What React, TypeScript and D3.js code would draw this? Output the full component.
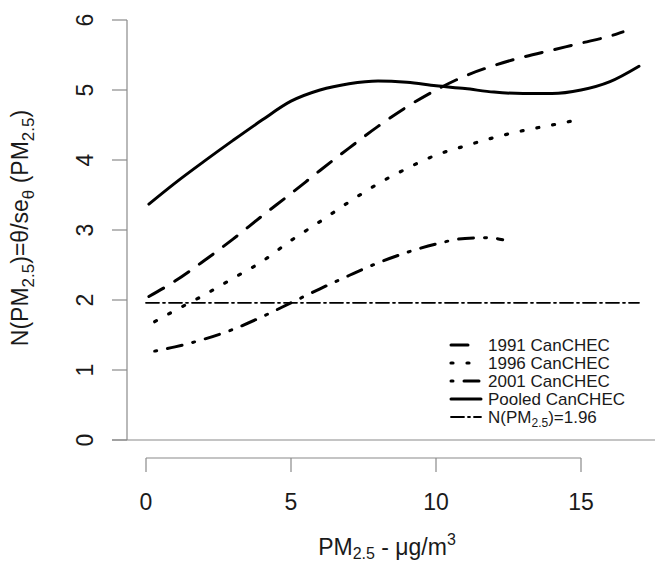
import * as d3 from "d3";

// values
const pooledX = [0.1, 1, 2, 3, 4, 5, 6, 7, 8, 9, 10, 11, 12, 13, 14, 15, 16, 17.0];
const pooledY = [3.37, 3.67, 3.98, 4.28, 4.57, 4.84, 5.0, 5.09, 5.13, 5.11, 5.06, 5.02, 4.97, 4.95, 4.95, 5.0, 5.12, 5.34];

const c1991X = [0.1, 1, 2, 3, 4, 5, 6, 7, 8, 9, 10, 11, 12, 13, 14, 15, 16, 16.45];
const c1991Y = [2.05, 2.27, 2.56, 2.87, 3.2, 3.52, 3.85, 4.17, 4.48, 4.76, 5.0, 5.2, 5.35, 5.47, 5.57, 5.67, 5.77, 5.83];

const c1996X = [0.3, 1, 2, 3, 4, 5, 6, 7, 8, 9, 10, 11, 12, 13, 14, 14.85];
const c1996Y = [1.69, 1.85, 2.07, 2.31, 2.55, 2.85, 3.12, 3.4, 3.66, 3.88, 4.07, 4.2, 4.32, 4.42, 4.5, 4.57];

const c2001X = [0.3, 1, 2, 3, 4, 5, 6, 7, 8, 9, 10, 11, 11.8, 12.3];
const c2001Y = [1.27, 1.33, 1.44, 1.58, 1.76, 1.96, 2.16, 2.35, 2.53, 2.68, 2.8, 2.88, 2.89, 2.86];

const refX = [0, 17.0];
const refY = [1.96, 1.96];

const xTicks = [0, 5, 10, 15];
const yTicks = [0, 1, 2, 3, 4, 5, 6];

const series = [
  { name: "1991 CanCHEC", xs: c1991X, ys: c1991Y, dash: "17,13", width: 3 },
  { name: "1996 CanCHEC", xs: c1996X, ys: c1996Y, dash: "2,14", width: 3.2 },
  { name: "2001 CanCHEC", xs: c2001X, ys: c2001Y, dash: "2,11,15,11", width: 3 },
  { name: "Pooled CanCHEC", xs: pooledX, ys: pooledY, dash: null, width: 3 },
  { name: "ref", xs: refX, ys: refY, dash: "13,4,2,4", width: 1.8 },
];

const W = 655;
const H = 566;
const font = "'Liberation Sans', Arial, sans-serif";
const axisColor = "#8a8a8a";
const textColor = "#1a1a1a";

export default function App() {
  const x = d3.scaleLinear().domain([0, 15]).range([146, 581]);
  const y = d3.scaleLinear().domain([0, 6]).range([440, 20]);

  const line = d3
    .line<[number, number]>()
    .x((d) => x(d[0]))
    .y((d) => y(d[1]))
    .curve(d3.curveMonotoneX);

  const legendX0 = 451;
  const legendX1 = 481;
  const legendTextX = 488;
  const legendY0 = 345;
  const legendStep = 18;

  return (
    <svg
      width={W}
      height={H}
      style={{ position: "absolute", left: 0, top: 0, background: "#fff" }}
      fontFamily={font}
    >
      {/* y axis */}
      <line x1={127} x2={127} y1={y(6)} y2={y(0)} stroke={axisColor} strokeWidth={1.2} />
      {yTicks.map((t) => (
        <g key={t}>
          <line x1={112} x2={127} y1={y(t)} y2={y(t)} stroke={axisColor} strokeWidth={1.2} />
          <text
            transform={`translate(93,${y(t)}) rotate(-90)`}
            textAnchor="middle"
            fontSize={23}
            fill={textColor}
          >
            {t}
          </text>
        </g>
      ))}
      {/* zero line */}
      <line x1={112} x2={W} y1={y(0)} y2={y(0)} stroke={axisColor} strokeWidth={1.2} />

      {/* x axis */}
      <line x1={x(0)} x2={x(15)} y1={458} y2={458} stroke={axisColor} strokeWidth={1.2} />
      {xTicks.map((t) => (
        <g key={t}>
          <line x1={x(t)} x2={x(t)} y1={458} y2={472} stroke={axisColor} strokeWidth={1.2} />
          <text x={x(t)} y={510} textAnchor="middle" fontSize={23} fill={textColor}>
            {t}
          </text>
        </g>
      ))}

      {/* axis titles */}
      <text x={387} y={555} textAnchor="middle" fontSize={23} fill={textColor}>
        PM<tspan fontSize={16} dy={4}>2.5</tspan>
        <tspan dy={-4}> - μg/m</tspan>
        <tspan fontSize={16} dy={-10}>3</tspan>
      </text>
      <text
        transform={`translate(28,228) rotate(-90)`}
        textAnchor="middle"
        fontSize={23}
        fill={textColor}
      >
        N(PM<tspan fontSize={17} dy={6}>2.5</tspan>
        <tspan dy={-6}>)=θ/se</tspan>
        <tspan fontSize={17} dy={6}>θ</tspan>
        <tspan dy={-6}> (PM</tspan>
        <tspan fontSize={17} dy={6}>2.5</tspan>
        <tspan dy={-6}>)</tspan>
      </text>

      {/* curves */}
      {series.map((s) => (
        <path
          key={s.name}
          d={line(s.xs.map((v, i) => [v, s.ys[i]] as [number, number])) ?? ""}
          fill="none"
          stroke="#000"
          strokeWidth={s.width}
          strokeLinecap="round"
          strokeDasharray={s.dash ?? undefined}
        />
      ))}

      {/* legend */}
      {series.map((s, i) => {
        const ly = legendY0 + i * legendStep;
        return (
          <g key={s.name}>
            <line
              x1={legendX0}
              x2={legendX1}
              y1={ly}
              y2={ly}
              stroke="#000"
              strokeWidth={s.width}
              strokeLinecap="round"
              strokeDasharray={s.dash ?? undefined}
            />
            <text x={legendTextX} y={ly + 6} fontSize={17} fill={textColor}>
              {s.name === "ref" ? (
                <>
                  N(PM<tspan fontSize={12} dy={4}>2.5</tspan>
                  <tspan dy={-4}>)=1.96</tspan>
                </>
              ) : (
                s.name
              )}
            </text>
          </g>
        );
      })}
    </svg>
  );
}
